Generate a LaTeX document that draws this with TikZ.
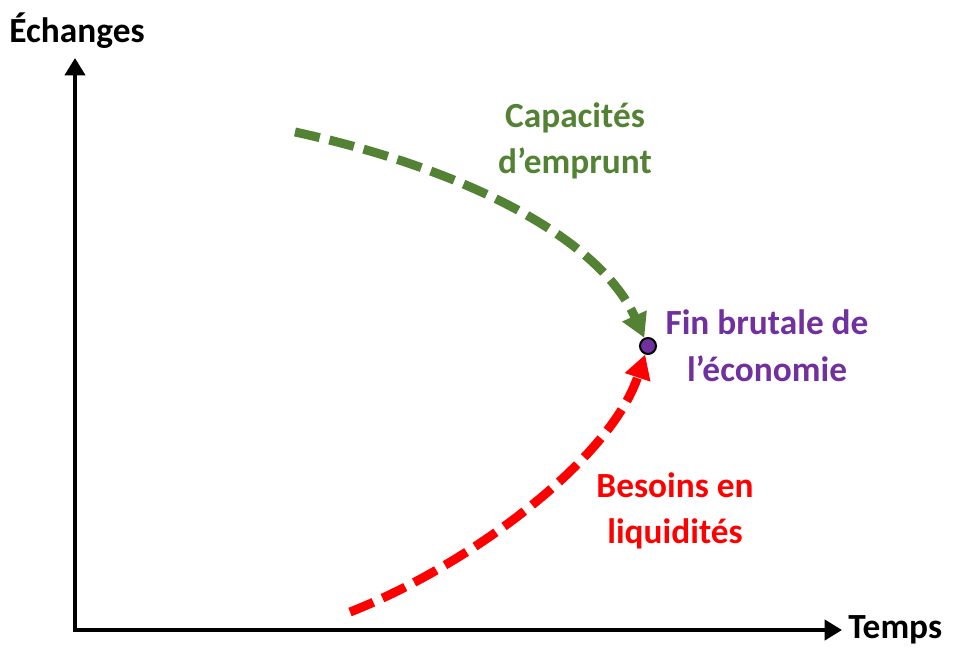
\documentclass[tikz,border=0pt]{standalone}
\usepackage{fontspec}
\setmainfont{Carlito}
\usetikzlibrary{arrows.meta}
\definecolor{cgreen}{HTML}{548235}
\definecolor{cred}{HTML}{FF0000}
\definecolor{cpurple}{HTML}{7030A0}
\tikzset{
  lbl/.style={font=\fontsize{26.5}{35}\selectfont\bfseries, align=center, inner sep=0pt},
  axis/.style={line width=3pt, -{Triangle[width=15pt,length=13pt]}},
  curve/.style={line width=6.75pt, dash pattern=on 19pt off 7.5pt, -{Triangle[width=19pt,length=18pt]}},
}
\begin{document}
\begin{tikzpicture}[x=0.75pt,y=-0.75pt]
\useasboundingbox (0,0) rectangle (955,657);
\coordinate (o) at (75,630);
\coordinate (ytip) at (75,58);
\coordinate (xtip) at (842,630);
\draw[axis] (o) -- (ytip);
\draw[axis] ([xshift=-1.5pt]o) -- (xtip);
\node[lbl] (ech) at (77,31) {Échanges};
\node[lbl, anchor=west] (tps) at (848,630) {Temps};

\node[circle, draw=black, fill=cpurple, line width=1.5pt, minimum size=12pt, inner sep=0pt] (dot) at (648,346) {};

\coordinate (gs) at (295,132);
\coordinate (rs) at (350,612);
\draw[curve, cgreen] (gs) .. controls (470,170) and (600,240) .. (dot);
\draw[curve, cred] (rs) .. controls (470,565) and (610,460) .. (dot);

\node[lbl, text=cgreen] (cap) at (575,141) {Capacités\\d’emprunt};
\node[lbl, text=cpurple] (fin) at (767,346) {Fin brutale de\\l’économie};
\node[lbl, text=cred] (bes) at (675,511) {Besoins en\\liquidités};
\end{tikzpicture}
\end{document}
